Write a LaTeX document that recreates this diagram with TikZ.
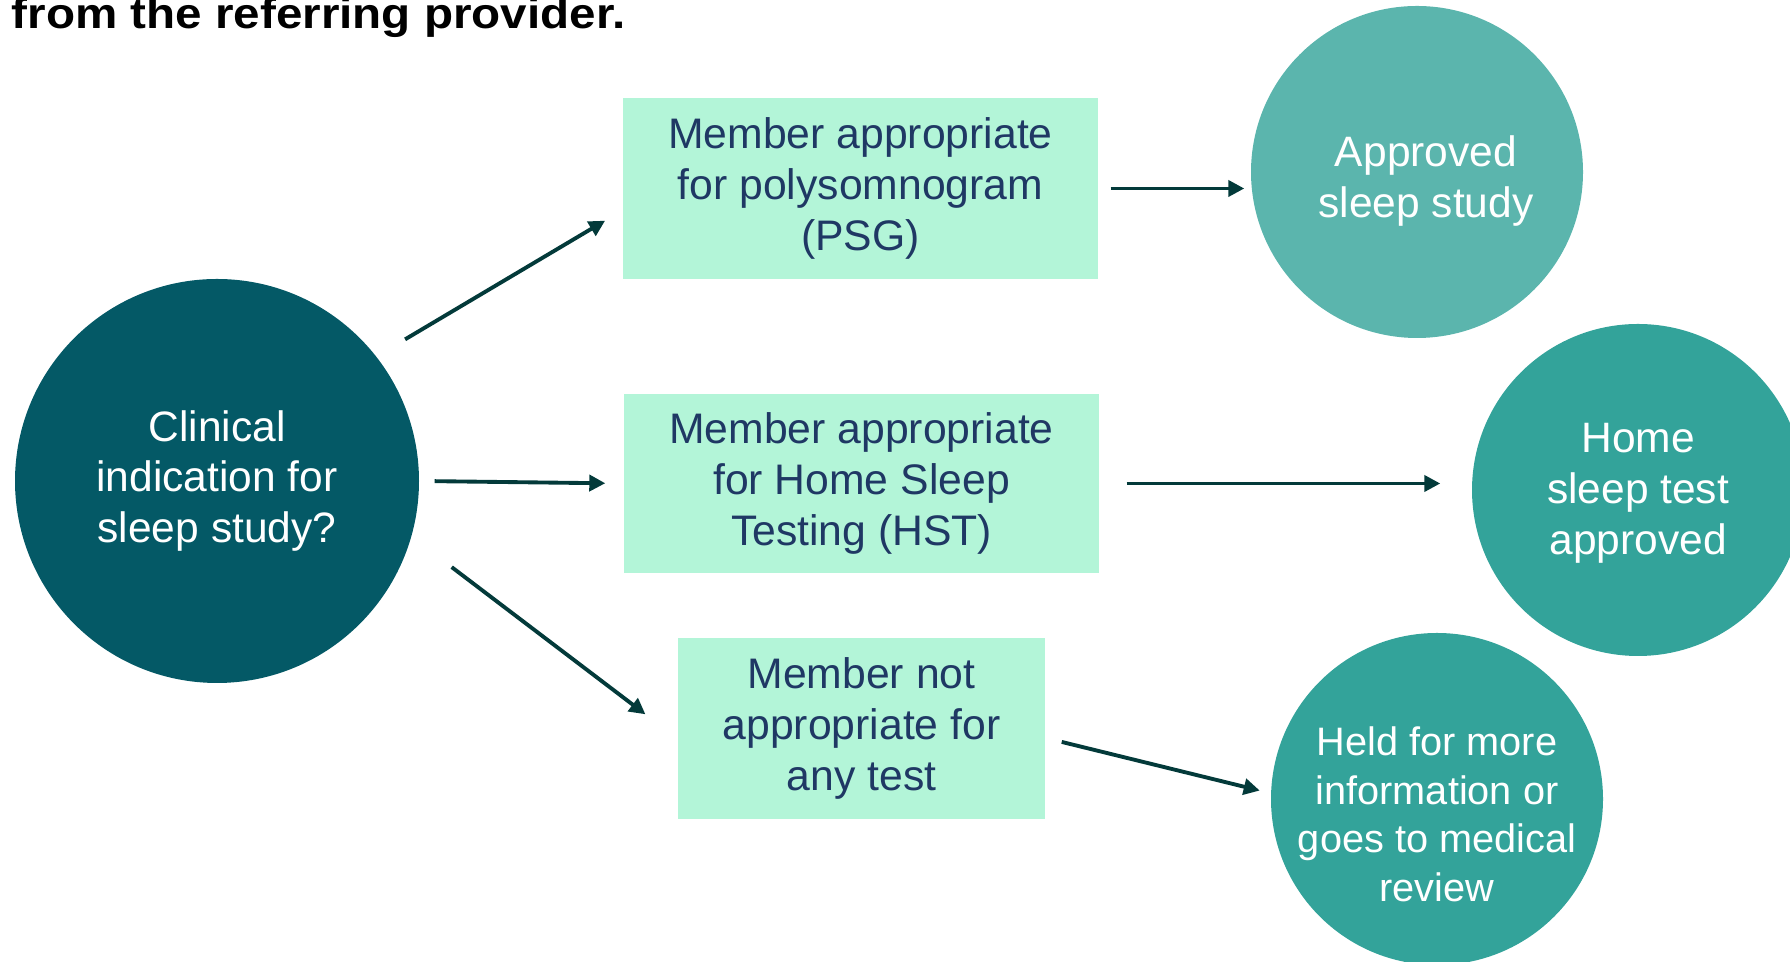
\documentclass[tikz,border=0pt]{standalone}
\usepackage{fontspec}
\setmainfont{Liberation Sans}
\usetikzlibrary{arrows.meta}
\definecolor{darkteal}{HTML}{045966}
\definecolor{lightteal}{HTML}{5BB5AD}
\definecolor{midteal}{HTML}{33A39A}
\definecolor{mint}{HTML}{B3F5D8}
\definecolor{navy}{HTML}{1F3864}
\definecolor{arrowcol}{HTML}{033A3A}
\begin{document}
\begin{tikzpicture}[
	box/.style={fill=mint, text=navy, minimum height=1.81cm, inner sep=0pt, align=center, font=\fontsize{12.15}{14.5}\selectfont},
	bubble/.style={circle, fill=#1, minimum size=3.32cm, inner sep=0pt},
	bubbletext/.style={text=white, inner sep=0pt, align=center, font=\fontsize{12.1}{14.5}\selectfont},
	flow/.style={draw=arrowcol, line width=1.1pt, -{Triangle[length=1.6mm, width=1.6mm]}}
	]
		\clip (0,0) rectangle (17.9,9.62);
		\node [anchor=base west, inner sep=0pt, xscale=1.11, transform shape, font=\bfseries\fontsize{12.2}{14}\selectfont] (title) at (0.11,9.33) {from the referring provider.};
		\node [bubble=darkteal, minimum size=4.04cm, bubbletext] (clinical) at (2.17,4.81) {Clinical\\indication for\\sleep study?};
		\node [box, minimum width=4.75cm] (psg) at (8.605,7.735) {Member appropriate\\for polysomnogram\\(PSG)};
		\node [box, minimum width=4.75cm, minimum height=1.79cm] (hst) at (8.615,4.785) {Member appropriate\\for Home Sleep\\Testing (HST)};
		\node [box, minimum width=3.67cm] (anytest) at (8.615,2.335) {Member not\\appropriate for\\any test};
		\node [bubble=lightteal] (approved) at (14.17,7.90) {};
		\node [bubble=midteal] (home) at (16.38,4.72) {};
		\node [bubble=midteal] (held) at (14.37,1.63) {};
		% circle texts sit a little below the centres
		\node [bubbletext] (approved-text) at ([xshift=0.9mm, yshift=-0.9mm]approved.center) {Approved\\sleep study};
		\node [bubbletext] (home-text) at ([yshift=-0.3mm]home.center) {Home\\sleep test\\approved};
		\node [bubbletext, font=\fontsize{11.3}{13.8}\selectfont] (held-text) at ([yshift=-1.55mm]held.center) {Held for more\\information or\\goes to medical\\review};
		\draw [flow, shorten <=3.3mm, shorten >=2mm] (clinical.38) -- ([yshift=-2.2mm]psg.west);
		\draw [flow, shorten <=1.5mm, shorten >=1.8mm] (clinical.east) -- (hst.west);
		\draw [flow, shorten <=5mm, shorten >=4mm] (clinical.-16) -- ([yshift=-1mm]anytest.west);
		\draw [flow, shorten <=1.2mm, shorten >=0.6mm] (psg.east) -- (psg.east -| approved.west);
		\draw [flow, shorten <=2.7mm, shorten >=3.1mm] (hst.east) -- (hst.east -| home.west);
		\draw [flow, shorten <=1.65mm, shorten >=1.1mm] ([yshift=-0.95mm]anytest.east) -- (held.178);
	\end{tikzpicture}
\end{document}
